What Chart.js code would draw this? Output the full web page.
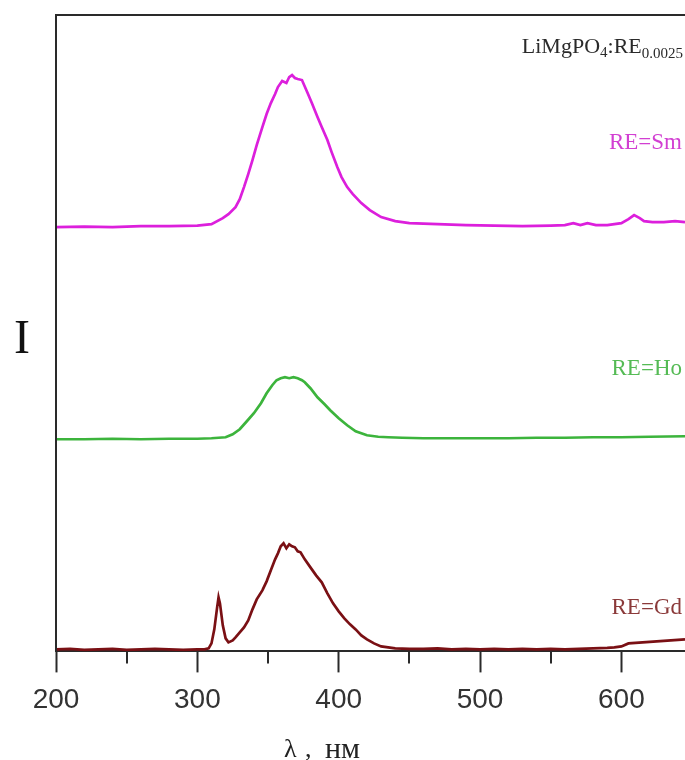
<!DOCTYPE html>
<html>
<head>
<meta charset="utf-8">
<script src="https://cdn.jsdelivr.net/npm/chart.js@4"></script>
<style>
  body { margin: 0; background: #fff; }
  #contenitore { width: 685px; height: 760px; }
</style>
</head>
<body>
<div id="contenitore"><canvas id="myChart"></canvas></div>
<script>
// spettri (lunghezza d'onda in nm, intensita' in unita' arbitrarie)
var sm_lambda = [200, 220, 240, 260, 280, 300, 310, 318, 322, 327, 330, 333, 336, 339, 342, 346, 349, 352, 355, 357, 360, 363, 365, 367, 369, 371, 374, 378, 381, 385, 388, 392, 395, 399, 402, 406, 410, 416, 422, 430, 440, 450, 470, 490, 510, 530, 550, 560, 566, 571, 576, 582, 590, 600, 605, 609, 613, 616, 622, 630, 638, 645];
var sm_valori = [424, 424.5, 424, 425, 425, 425.5, 427, 433, 437, 444, 452, 464, 477, 491, 506, 524, 537, 548, 557, 564, 570, 568, 574, 576, 573, 572, 571, 558, 548, 534, 524, 511, 499, 484, 474, 464, 457, 448, 441, 434, 430, 428, 427, 426, 425.5, 425, 425.5, 426, 428, 426, 428, 426, 426, 428, 432, 436, 433, 430, 429, 429, 430, 429];

var ho_lambda = [200, 220, 240, 260, 280, 300, 310, 320, 325, 330, 335, 340, 345, 349, 353, 356, 359, 362, 365, 368, 371, 374, 376, 380, 385, 390, 394, 400, 406, 412, 420, 428, 435, 445, 460, 480, 500, 520, 540, 560, 580, 600, 620, 645];
var ho_valori = [212, 212, 212.5, 212, 212.5, 212.5, 213, 214, 217, 222, 230, 238, 248, 258, 266, 271, 273, 274, 273, 274, 273, 271, 269, 263, 254, 247, 241, 233, 226, 220, 216, 214.5, 214, 213.5, 213, 213, 213, 213, 213.5, 213.5, 214, 214, 214.5, 215];

var gd_lambda = [200, 210, 220, 230, 240, 250, 260, 270, 280, 290, 300, 305, 308, 310, 312, 314, 315, 316, 318, 320, 322, 325, 327, 330, 333, 336, 339, 342, 346, 349, 352, 355, 357, 359, 361, 363, 365, 367, 369, 371, 373, 376, 380, 384, 388, 392, 396, 400, 404, 408, 412, 416, 420, 425, 430, 435, 440, 450, 460, 470, 480, 490, 500, 510, 520, 530, 540, 550, 560, 570, 580, 590, 595, 600, 605, 610, 615, 620, 625, 630, 635, 640, 645];
var gd_valori = [2, 2.5, 1.5, 2, 2.5, 1.5, 2, 2.5, 2, 1.5, 2, 2, 3, 8, 22, 44, 54, 48, 26, 13, 9, 11, 14, 19, 24, 31, 42, 52, 61, 70, 81, 92, 98, 105, 108, 103, 107, 105, 104, 100, 99, 92, 84, 76, 69, 58, 48, 40, 33, 27, 22, 16, 12, 8, 5, 4, 3, 2.5, 2.5, 3, 2, 2.5, 2, 2.5, 2, 2.5, 2, 2.5, 2, 2.5, 3, 3.5, 4, 5, 8, 8.5, 9, 9.5, 10, 10.5, 11, 11.5, 12];

var tick_x = [200, 300, 400, 500, 600];
var tick_minori = [250, 350, 450, 550];
var serie_nomi = ['RE=Sm', 'RE=Ho', 'RE=Gd'];

// trasformo le coppie di array in punti {x, y}
function crea_punti(lambda, valori) {
    var punti = [];
    for (var i = 0; i < lambda.length; i++) {
        punti.push({ x: lambda[i], y: valori[i] });
    }
    return punti;
}

// plugin per cornice, tacche minori e scritte
var plugin_testi = {
    id: 'testi',
    afterDraw: function(chart) {
        var ctx = chart.ctx;
        var area = chart.chartArea;
        var scala_x = chart.scales.x;

        ctx.save();
        ctx.strokeStyle = '#2a2a2a';
        ctx.lineWidth = 2;
        ctx.beginPath();
        ctx.moveTo(area.left, area.bottom);
        ctx.lineTo(area.left, area.top);
        ctx.lineTo(area.right, area.top);
        ctx.stroke();

        // tacche minori
        ctx.beginPath();
        for (var i = 0; i < tick_minori.length; i++) {
            var px = Math.round(scala_x.getPixelForValue(tick_minori[i]));
            ctx.moveTo(px, area.bottom);
            ctx.lineTo(px, area.bottom + 12);
        }
        ctx.stroke();

        // titolo con pedici
        var pezzi = [
            { t: 'LiMgPO', f: 22, dy: 0 },
            { t: '4', f: 15, dy: 4 },
            { t: ':RE', f: 22, dy: 0 },
            { t: '0.0025', f: 15, dy: 5 }
        ];
        var larghezza = 0;
        for (var j = 0; j < pezzi.length; j++) {
            ctx.font = pezzi[j].f + 'px "Liberation Serif"';
            larghezza += ctx.measureText(pezzi[j].t).width;
        }
        var x0 = 683 - larghezza;
        ctx.fillStyle = '#2a2a2a';
        ctx.textBaseline = 'alphabetic';
        for (var k = 0; k < pezzi.length; k++) {
            ctx.font = pezzi[k].f + 'px "Liberation Serif"';
            ctx.fillText(pezzi[k].t, x0, 53 + pezzi[k].dy);
            x0 += ctx.measureText(pezzi[k].t).width;
        }

        // etichette delle serie
        var colori = ['#d23fd2', '#55bb55', '#8b3a3a'];
        var basi = [149, 375, 614];
        ctx.font = '23px "Liberation Serif"';
        ctx.textAlign = 'right';
        for (var s = 0; s < serie_nomi.length; s++) {
            ctx.fillStyle = colori[s];
            ctx.fillText(serie_nomi[s], 682, basi[s]);
        }

        // titoli degli assi
        ctx.textAlign = 'left';
        ctx.fillStyle = '#111';
        ctx.font = '48px "Liberation Serif"';
        ctx.fillText('I', 14, 353);

        ctx.fillStyle = '#222';
        ctx.font = '26px "Liberation Serif"';
        ctx.fillText('\u03bb', 284, 757);
        ctx.fillText(',', 305, 757);
        ctx.font = '30px "Liberation Serif"';
        ctx.fillText('\u043d\u043c', 325, 758);
        ctx.restore();
    }
};

var ctx = document.getElementById('myChart').getContext('2d');

var myChart = new Chart(ctx, {
    type: 'scatter',
    data: {
        datasets: [
            {
                label: serie_nomi[0],
                data: crea_punti(sm_lambda, sm_valori),
                borderColor: '#dc1fdc',
                borderWidth: 2.7
            },
            {
                label: serie_nomi[1],
                data: crea_punti(ho_lambda, ho_valori),
                borderColor: '#3cb43c',
                borderWidth: 2.7
            },
            {
                label: serie_nomi[2],
                data: crea_punti(gd_lambda, gd_valori),
                borderColor: '#7a1014',
                borderWidth: 2.7
            }
        ]
    },
    options: {
        responsive: true,
        maintainAspectRatio: false,
        animation: false,
        showLine: true,
        elements: {
            point: { radius: 0 },
            line: { tension: 0 }
        },
        layout: {
            padding: { left: 56, top: 15, right: 0, bottom: 32 }
        },
        plugins: {
            legend: { display: false },
            tooltip: { enabled: false }
        },
        scales: {
            x: {
                type: 'linear',
                min: 200,
                max: 645,
                afterBuildTicks: function(scale) {
                    scale.ticks = tick_x.map(function(v) { return { value: v }; });
                },
                border: { display: true, color: '#2a2a2a', width: 2 },
                grid: {
                    drawOnChartArea: false,
                    drawTicks: true,
                    tickLength: 21,
                    tickWidth: 2,
                    tickColor: '#2a2a2a'
                },
                ticks: {
                    maxRotation: 0,
                    padding: 11,
                    color: '#333',
                    font: { family: '"Liberation Sans", Arial', size: 28 }
                }
            },
            y: {
                display: false,
                min: 0,
                max: 636
            }
        }
    },
    plugins: [plugin_testi]
});
</script>
</body>
</html>
